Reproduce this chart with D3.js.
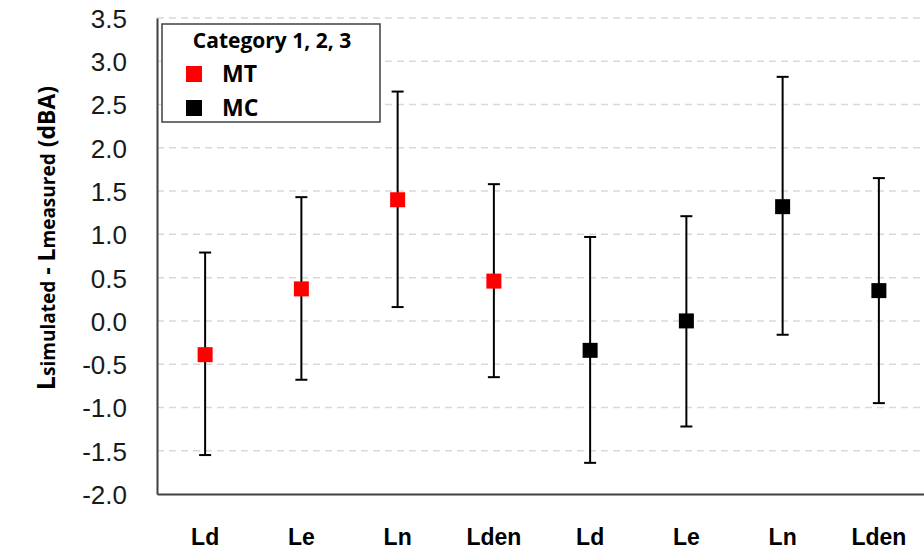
<!DOCTYPE html>
<html>
<head>
<meta charset="utf-8">
<script src="https://cdn.jsdelivr.net/npm/d3@7"></script>
<style>
  body { margin: 0; background: #fff; }
  svg { font-family: "Open Sans", Calibri, sans-serif; }
</style>
</head>
<body>
<script>
const width = 924, height = 554;

// data
const categories = ['Ld', 'Le', 'Ln', 'Lden', 'Ld', 'Le', 'Ln', 'Lden'];
const groups = ['MT', 'MT', 'MT', 'MT', 'MC', 'MC', 'MC', 'MC'];
const means = [-0.39, 0.37, 1.40, 0.46, -0.34, 0.00, 1.32, 0.35];
const uppers = [0.79, 1.43, 2.65, 1.58, 0.97, 1.21, 2.82, 1.65];
const lowers = [-1.55, -0.68, 0.16, -0.65, -1.64, -1.22, -0.16, -0.95];
const yTicks = [-2.0, -1.5, -1.0, -0.5, 0.0, 0.5, 1.0, 1.5, 2.0, 2.5, 3.0, 3.5];
const legendItems = ['MT', 'MC'];
const colors = { MT: '#ff0000', MC: '#000000' };

const rows = categories.map((c, i) => ({
  key: i, cat: c, group: groups[i], mean: means[i], hi: uppers[i], lo: lowers[i]
}));

const margin = { left: 157, top: 18, bottom: 60 };

const svg = d3.select('body').append('svg')
  .attr('width', width)
  .attr('height', height);

const x = d3.scaleBand()
  .domain(rows.map(d => d.key))
  .range([margin.left, 927]);

const y = d3.scaleLinear()
  .domain([-2, 3.5])
  .range([height - margin.bottom, margin.top]);

// gridlines
svg.append('g')
  .selectAll('line')
  .data(yTicks.filter(t => t > -2))
  .enter().append('line')
  .attr('x1', margin.left)
  .attr('x2', width)
  .attr('y1', d => y(d))
  .attr('y2', d => y(d))
  .attr('stroke', '#d9d9d9')
  .attr('stroke-width', 1.5)
  .attr('stroke-dasharray', '7,5');

// y axis - plain hyphen for negatives like the original
const yAxis = svg.append('g')
  .attr('transform', `translate(${margin.left},0)`)
  .call(d3.axisLeft(y).tickValues(yTicks).tickFormat(d => d.toFixed(1)).tickSize(0).tickPadding(30));
yAxis.select('.domain').attr('stroke', '#404040').attr('stroke-width', 2);
yAxis.selectAll('text')
  .attr('font-size', 26)
  .attr('fill', '#1a1a1a')
  .attr('dy', '0.36em');

// x axis
const xAxis = svg.append('g')
  .attr('transform', `translate(0,${y(-2)})`)
  .call(d3.axisBottom(x).tickSize(0).tickFormat(k => categories[k]));
xAxis.select('.domain').attr('stroke', '#404040').attr('stroke-width', 2);
xAxis.selectAll('text')
  .attr('y', 51)
  .attr('dy', 0)
  .attr('font-size', 23)
  .attr('font-weight', 'bold')
  .attr('fill', '#000');

// y title
const yTitle = svg.append('text')
  .attr('transform', 'translate(55,238) rotate(-90)')
  .attr('text-anchor', 'middle')
  .attr('font-weight', 'bold')
  .attr('fill', '#000');
yTitle.append('tspan').attr('font-size', 25).text('L');
yTitle.append('tspan').attr('font-size', 19).text('simulated');
yTitle.append('tspan').attr('font-size', 23).text(' - L');
yTitle.append('tspan').attr('font-size', 19).text('measured');
yTitle.append('tspan').attr('font-size', 23).text(' (dBA)');

// error bars
const bars = svg.append('g')
  .selectAll('g')
  .data(rows)
  .enter().append('g')
  .attr('transform', d => `translate(${x(d.key) + x.bandwidth() / 2},0)`);

bars.append('line')
  .attr('y1', d => y(d.lo))
  .attr('y2', d => y(d.hi))
  .attr('stroke', '#000')
  .attr('stroke-width', 2);

bars.selectAll('.cap')
  .data(d => [d.lo, d.hi])
  .enter().append('line')
  .attr('class', 'cap')
  .attr('x1', -6)
  .attr('x2', 6)
  .attr('y1', v => y(v))
  .attr('y2', v => y(v))
  .attr('stroke', '#000')
  .attr('stroke-width', 2);

bars.append('rect')
  .attr('x', -7.5)
  .attr('y', d => y(d.mean) - 7.5)
  .attr('width', 15)
  .attr('height', 15)
  .attr('fill', d => colors[d.group]);

// legend
const legend = svg.append('g').attr('transform', 'translate(162,24)');
legend.append('rect')
  .attr('width', 218)
  .attr('height', 98)
  .attr('fill', '#fff')
  .attr('stroke', '#404040')
  .attr('stroke-width', 1.5);
legend.append('text')
  .attr('x', 110)
  .attr('y', 24)
  .attr('text-anchor', 'middle')
  .attr('font-size', 21)
  .attr('font-weight', 'bold')
  .text('Category 1, 2, 3');
const li = legend.selectAll('.item')
  .data(legendItems)
  .enter().append('g')
  .attr('class', 'item')
  .attr('transform', (d, i) => `translate(0,${50 + i * 34})`);
li.append('rect')
  .attr('x', 24)
  .attr('y', -8)
  .attr('width', 16)
  .attr('height', 16)
  .attr('fill', d => colors[d]);
li.append('text')
  .attr('x', 60)
  .attr('y', 8)
  .attr('font-size', 23)
  .attr('font-weight', 'bold')
  .text(d => d);
</script>
</body>
</html>
